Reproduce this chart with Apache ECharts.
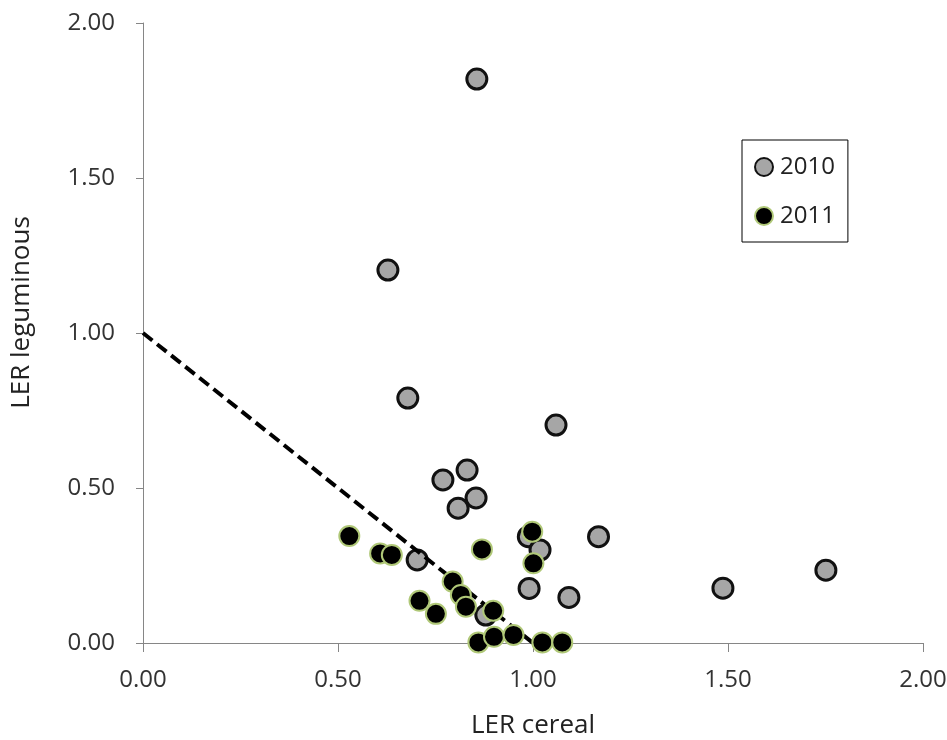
<!DOCTYPE html>
<html>
<head>
<meta charset="utf-8">
<script src="https://cdn.jsdelivr.net/npm/echarts@6/dist/echarts.min.js"></script>
<style>html,body{margin:0;padding:0;background:#fff;}#c{width:947px;height:740px;}</style>
</head>
<body>
<div id="c"></div>
<script>
const x2010 = [0.856, 0.628, 0.679, 1.059, 0.769, 0.831, 0.854, 0.808, 0.703, 0.988, 1.018, 1.168, 0.990, 1.092, 1.487, 1.751, 0.879];
const y2010 = [1.819, 1.203, 0.790, 0.703, 0.526, 0.558, 0.468, 0.435, 0.268, 0.343, 0.300, 0.343, 0.176, 0.147, 0.177, 0.235, 0.090];
const x2011 = [0.529, 0.608, 0.638, 0.869, 0.998, 1.001, 0.794, 0.709, 0.815, 0.828, 0.751, 0.898, 0.860, 0.900, 0.950, 1.024, 1.075];
const y2011 = [0.345, 0.289, 0.284, 0.302, 0.359, 0.257, 0.198, 0.136, 0.155, 0.117, 0.094, 0.104, 0.002, 0.020, 0.026, 0.002, 0.002];
const lineX = [0, 1];
const lineY = [1, 0];
const seriesNames = ['2010', '2011'];
const xTitle = 'LER cereal';
const yTitle = 'LER leguminous';

const zip = (a, b) => a.map((v, i) => [v, b[i]]);
const font = "'Open Sans', 'Noto Sans', sans-serif";

const chart = echarts.init(document.getElementById('c'), null, {renderer: 'canvas'});
chart.setOption({
  animation: false,
  backgroundColor: '#fff',
  grid: {left: 143, right: 24, top: 23, bottom: 97, containLabel: false, outerBoundsMode: 'none'},
  legend: {
    data: seriesNames,
    orient: 'vertical',
    left: 742, top: 140,
    borderColor: '#000', borderWidth: 1,
    padding: [15, 13, 14, 12],
    itemGap: 25,
    itemWidth: 18, itemHeight: 18,
    textStyle: {fontFamily: font, fontSize: 24, lineHeight: 24, color: '#222', padding: [0, 0, 0, 2]}
  },
  xAxis: {
    type: 'value', min: 0, max: 2, interval: 0.5,
    name: xTitle, nameLocation: 'middle', nameGap: 70,
    nameTextStyle: {fontFamily: font, fontSize: 26, color: '#222'},
    axisLine: {lineStyle: {color: '#868686', width: 1}},
    axisTick: {show: true, inside: false, length: 9, lineStyle: {color: '#868686'}},
    axisLabel: {fontFamily: font, fontSize: 24, color: '#333', margin: 25, formatter: v => v.toFixed(2)},
    splitLine: {show: false}
  },
  yAxis: {
    type: 'value', min: 0, max: 2, interval: 0.5,
    name: yTitle, nameLocation: 'middle', nameGap: 108, nameRotate: 90,
    nameTextStyle: {fontFamily: font, fontSize: 26, color: '#222', padding: [0, 0, 0, 41]},
    axisLine: {show: true, lineStyle: {color: '#868686', width: 1}},
    axisTick: {show: true, inside: false, length: 7, lineStyle: {color: '#868686'}},
    axisLabel: {fontFamily: font, fontSize: 24, color: '#333', margin: 28, formatter: v => v.toFixed(2)},
    splitLine: {show: false}
  },
  series: [
    {
      name: seriesNames[0], type: 'scatter', z: 2,
      data: zip(x2010, y2010),
      symbol: 'circle', symbolSize: 20,
      itemStyle: {color: '#a6a6a6', borderColor: '#111', borderWidth: 3, opacity: 1}
    },
    {
      name: 'line', type: 'line', z: 3,
      data: zip(lineX, lineY),
      symbol: 'none',
      lineStyle: {color: '#000', width: 4, type: [12, 6]}
    },
    {
      name: seriesNames[1], type: 'scatter', z: 4,
      data: zip(x2011, y2011),
      symbol: 'circle', symbolSize: 20,
      itemStyle: {color: '#000', borderColor: '#b0c878', borderWidth: 2, opacity: 1}
    }
  ]
});
</script>
</body>
</html>
